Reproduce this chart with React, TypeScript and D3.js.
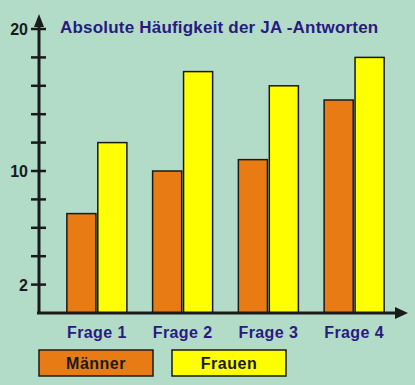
import React from 'react';
import * as d3 from 'd3';

const questions = ['Frage 1', 'Frage 2', 'Frage 3', 'Frage 4'];
const seriesNames = ['Männer', 'Frauen'];
const maenner = [7, 10, 10.8, 15];
const frauen = [12, 17, 16, 18];
const tickValues = [2, 4, 6, 8, 10, 12, 14, 16, 18, 20];
const tickLabels = [2, 10, 20];

const W = 415, H = 385;
const colors = ['#e87b14', '#ffff00'];
const bg = '#b2dcc8';
const ink = '#1a1a1a';
const navy = '#2a1a80';

export default function App() {
  const y = d3.scaleLinear().domain([0, 20]).range([313, 29]);
  const x = d3.scaleBand().domain(questions).range([54, 397]).paddingInner(0.3).paddingOuter(0.15);
  const xs = d3.scaleBand().domain(seriesNames).range([0, x.bandwidth()]).paddingInner(0.06);
  const values = [maenner, frauen];
  const axisX = 39;

  return (
    <svg width={W} height={H} style={{ position: 'fixed', left: 0, top: 0, background: bg }}
      fontFamily="'Liberation Sans', Arial, sans-serif">
      <rect width={W} height={H} fill={bg} />
      <text x={60} y={33} fill={navy} fontSize={17} letterSpacing={0.2} fontWeight="bold">Absolute Häufigkeit der JA -Antworten</text>

      {questions.map((q, i) => (
        <g key={q}>
          {seriesNames.map((s, j) => {
            const v = values[j][i];
            return (
              <rect key={s} x={x(q)! + xs(s)!} y={y(v)} width={xs.bandwidth()} height={y(0) - y(v)}
                fill={colors[j]} stroke={ink} strokeWidth={1.5} />
            );
          })}
          <text x={x(q)! + x.bandwidth() / 2} y={338} textAnchor="middle" fill={navy}
            fontSize={16} letterSpacing={0.4} fontWeight="bold">{q}</text>
        </g>
      ))}

      {/* axes */}
      <line x1={axisX} x2={axisX} y1={y(0) + 1} y2={20} stroke={ink} strokeWidth={3} />
      <path d={`M${axisX - 5},${27} L${axisX},${14} L${axisX + 5},${27} Z`} fill={ink} />
      <line x1={axisX - 2} x2={398} y1={y(0)} y2={y(0)} stroke={ink} strokeWidth={3} />
      <path d={`M${395},${y(0) - 6} L${408},${y(0)} L${395},${y(0) + 6} Z`} fill={ink} />

      {tickValues.map(t => (
        <line key={t} x1={axisX - 8} x2={axisX + 7} y1={y(t)} y2={y(t)} stroke={ink} strokeWidth={2.5} />
      ))}
      {tickLabels.map(t => (
        <text key={t} x={28} y={y(t) + 6} textAnchor="end" fill={ink} fontSize={16} fontWeight="bold">{t}</text>
      ))}

      {/* legend */}
      {seriesNames.map((s, j) => (
        <g key={s} transform={`translate(${39 + j * 133},350)`}>
          <rect width={114} height={26} fill={colors[j]} stroke={ink} strokeWidth={1.5} />
          <text x={57} y={19} textAnchor="middle" fill={ink} fontSize={16} letterSpacing={0.5} fontWeight="bold">{s}</text>
        </g>
      ))}
    </svg>
  );
}
